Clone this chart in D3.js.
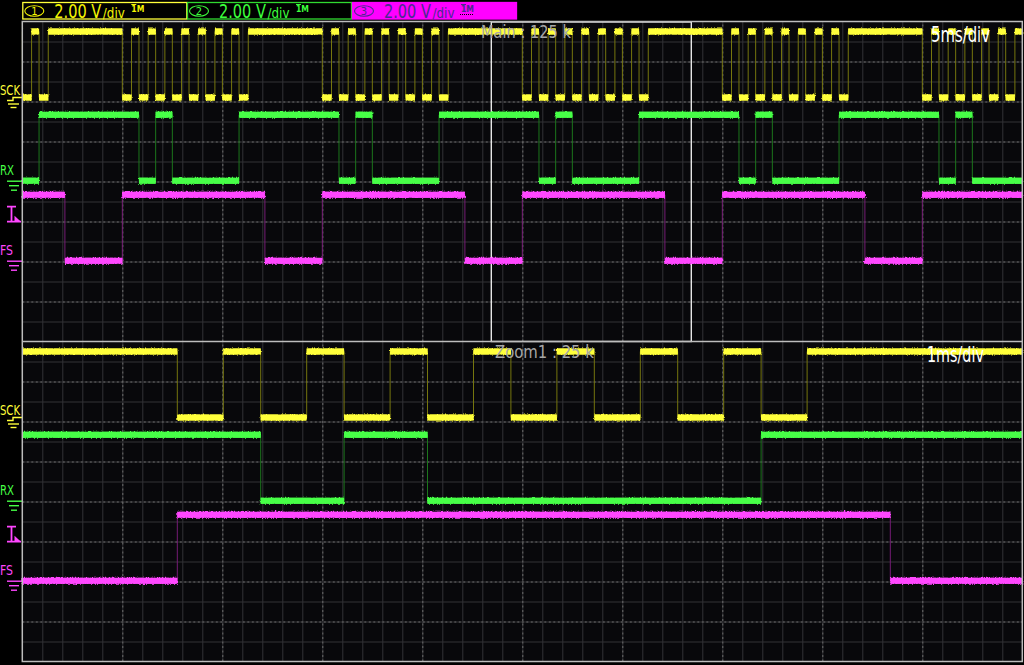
<!DOCTYPE html>
<html><head><meta charset="utf-8">
<script src="https://cdn.jsdelivr.net/npm/d3@7"></script>
<style>
html,body{margin:0;padding:0;background:#000;overflow:hidden;}
svg{display:block;}
</style></head><body>
<svg id="c" width="1024" height="665"></svg>
<script>
const channelNames = ["SCK", "RX", "FS"];
const channelColors = ["#ffff3a", "#46ff46", "#ff46ff"];
const edgeColors = ["#76760e", "#1c761c", "#761c76"];
const groundDiv = [1.9, 3.98, 5.98];             // ground marker, divisions from panel top
const voltsPerDiv = [2, 2, 2];
const frameStarts = [-5, 5, 15, 25, 35, 45];      // ms, FS rising edges
const sckEdges = [[0.000,0],[0.460,1],[0.834,0],[1.294,1],[1.668,0],[2.128,1],[2.502,0],[2.962,1],
                  [3.336,0],[3.796,1],[4.170,0],[4.630,1],[5.004,0],[5.464,1],[5.838,0],[6.298,1]];
const rxEdges = [[0.834,0],[1.668,1],[2.502,0],[5.838,1]];
const fsEdges = [[0.000,1],[7.130,0]];
const initialLevels = [1, 1, 0];
const logicHighVolts = 3.3;
const mainRange = [0, 50];          // ms
const zoomRange = [23.45, 33.45];   // ms
const headerLabels = ["2.00 V", "2.00 V", "2.00 V"];
const timebaseLabels = ["5ms/div", "1ms/div"];
const panelTitles = ["Main : 125 k", "Zoom1 : 25 k"];

// ---------------- layout ----------------
const svg = d3.select("#c");
const X0 = 22.3, X1 = 1022.3, PH = 320;
const panelTops = [21.5, 341.5];
const FONT = "'Liberation Sans Narrow','DejaVu Sans Condensed','Roboto Condensed','DejaVu Sans',sans-serif";

// condense a text horizontally to a target width with a real transform
function fit(sel, x, y, w){
  sel.attr("x",0).attr("y",0);
  const n = sel.node().getComputedTextLength() || w;
  sel.attr("transform",`translate(${x},${y}) scale(${w/n},1)`);
  return sel;
}

svg.append("rect").attr("width",1024).attr("height",665).attr("fill","#000");

const defs = svg.append("defs");
function fuzz(id, scale){
  const f = defs.append("filter").attr("id",id).attr("filterUnits","userSpaceOnUse")
    .attr("x",0).attr("y",0).attr("width",1024).attr("height",665);
  f.append("feTurbulence").attr("type","fractalNoise").attr("baseFrequency","0.9 0.7")
    .attr("numOctaves",1).attr("seed",7).attr("result","n");
  f.append("feDisplacementMap").attr("in","SourceGraphic").attr("in2","n").attr("scale",scale)
    .attr("xChannelSelector","R").attr("yChannelSelector","G").attr("result","d");
  const m = f.append("feMerge");
  m.append("feMergeNode").attr("in","d");
  m.append("feMergeNode").attr("in","SourceGraphic");
}
fuzz("fz0",3.5); fuzz("fz1",3.5); fuzz("fz2",6);
const hatch = defs.append("pattern").attr("id","hatch").attr("patternUnits","userSpaceOnUse")
  .attr("width",2).attr("height",2);
hatch.append("rect").attr("width",1).attr("height",1).attr("fill","currentColor");

// ---------------- header ----------------
const headerBoxes = [
  {x:22.3, fill:"none", stroke:channelColors[0], text:"#f4f400"},
  {x:187, fill:"none", stroke:"#30d830", text:"#3cff3c"},
  {x:352, fill:"#ff00ff", stroke:"#ff00ff", text:"#4a2a90"}
];
headerBoxes.forEach((b,i)=>{
  const g = svg.append("g").attr("transform",`translate(${b.x},0)`);
  g.append("rect").attr("x",0.5).attr("y",2.5).attr("width",164).attr("height",16.5)
    .attr("fill",b.fill).attr("stroke",b.stroke).attr("stroke-width",1.3);
  g.append("ellipse").attr("cx",12).attr("cy",11).attr("rx",9.5).attr("ry",5.3)
    .attr("fill","none").attr("stroke",b.text).attr("stroke-width",1.1);
  g.append("text").attr("x",12).attr("y",15).attr("text-anchor","middle")
    .attr("font-family",FONT).attr("font-size",11).attr("fill",b.text).text(String(i+1));
  fit(g.append("text").attr("font-family",FONT).attr("font-size",19).attr("fill",b.text).text(headerLabels[i]), 32, 17.5, 47);
  fit(g.append("text").attr("font-family",FONT).attr("font-size",13.5).attr("fill",b.text).text("/div"), 80.5, 17.5, 22);
  fit(g.append("text").attr("font-family",FONT).attr("font-size",8.5).attr("font-weight","bold").attr("fill",b.text).text("1M"), 109, 11.5, 13);
  g.append("line").attr("x1",109).attr("x2",114).attr("y1",4.5).attr("y2",4.5).attr("stroke",b.text).attr("stroke-width",1);
  g.append("rect").attr("x",108).attr("y",13).attr("width",14).attr("height",3)
    .style("color",b.text).attr("fill","url(#hatch)");
});

// ---------------- panels ----------------
svg.append("rect").attr("x",X0).attr("y",panelTops[0]).attr("width",X1-X0).attr("height",2*PH).attr("fill","#08080b");

function buildSegments(edges, init, range){
  const all = [];
  frameStarts.forEach(f => edges.forEach(([dt,l]) => all.push([f+dt,l])));
  all.sort((a,b)=>a[0]-b[0]);
  let level = init;
  all.forEach(([t,l]) => { if (t <= range[0]) level = l; });
  const segs = []; let t0 = range[0];
  all.filter(e => e[0] > range[0] && e[0] < range[1]).forEach(([t,l]) => {
    if (l !== level){ segs.push([t0,t,level]); t0 = t; level = l; }
  });
  segs.push([t0, range[1], level]);
  return segs;
}
const channelEdges = [sckEdges, rxEdges, fsEdges];

const panels = [
  {top:panelTops[0], range:mainRange, minor:1, major:5},
  {top:panelTops[1], range:zoomRange, minor:0.2, major:1}
];

panels.forEach((p,pi)=>{
  const x = d3.scaleLinear().domain(p.range).range([X0,X1]);
  const yDiv = d3.scaleLinear().domain([0,8]).range([p.top, p.top+PH]);
  const g = svg.append("g");

  // grid through axes
  const minorT = d3.range(p.range[0]+p.minor, p.range[1]-p.minor/2, p.minor);
  const majorT = d3.range(p.range[0]+p.major, p.range[1]-p.major/2, p.major);
  const gridV = g.append("g").attr("transform",`translate(0,${p.top+PH})`)
    .call(d3.axisBottom(x).tickValues(minorT).tickSize(-PH).tickFormat(""));
  gridV.select(".domain").remove();
  gridV.selectAll("line").attr("stroke","#333337").attr("stroke-width",1);
  const gridH = g.append("g").attr("transform",`translate(${X0},0)`)
    .call(d3.axisLeft(yDiv).tickValues(d3.range(0.5,8,0.5)).tickSize(-(X1-X0)).tickFormat(""));
  gridH.select(".domain").remove();
  gridH.selectAll("line").attr("stroke","#333337").attr("stroke-width",1);
  const majV = g.append("g").attr("transform",`translate(0,${p.top+PH})`)
    .call(d3.axisBottom(x).tickValues(majorT).tickSize(-PH).tickFormat(""));
  majV.select(".domain").remove();
  majV.selectAll("line").attr("stroke","#6c6c6c").attr("stroke-dasharray","2,2.5");
  const majH = g.append("g").attr("transform",`translate(${X0},0)`)
    .call(d3.axisLeft(yDiv).tickValues(d3.range(1,8,1)).tickSize(-(X1-X0)).tickFormat(""));
  majH.select(".domain").remove();
  majH.selectAll("line").attr("stroke","#6c6c6c").attr("stroke-dasharray","2,2.5");

  // zoom window box in main panel
  if (pi === 0){
    g.append("rect").attr("x",x(zoomRange[0])).attr("y",p.top+0.5)
      .attr("width",x(zoomRange[1])-x(zoomRange[0])).attr("height",PH-0.5)
      .attr("fill","none").attr("stroke","#e6e6e6").attr("stroke-width",1.4);
  }

  // traces
  channelNames.forEach((name,ci)=>{
    const vd = voltsPerDiv[ci];
    const y = d3.scaleLinear().domain([-(8-groundDiv[ci])*vd, groundDiv[ci]*vd]).range([p.top+PH, p.top]);
    const segs = buildSegments(channelEdges[ci], initialLevels[ci], p.range);
    const pts = segs.map(s=>[s[0], s[2]]).concat([[p.range[1], segs[segs.length-1][2]]]);
    const line = d3.line().x(d=>x(d[0])).y(d=>y(d[1]*logicHighVolts)).curve(d3.curveStepAfter);
    g.append("path").attr("d",line(pts)).attr("fill","none").attr("stroke",edgeColors[ci]).attr("stroke-width",1);
    g.append("g").attr("filter",`url(#fz${ci})`).selectAll("line").data(segs).join("line")
      .attr("x1",d=>x(d[0])).attr("x2",d=>x(d[1]))
      .attr("y1",d=>y(d[2]*logicHighVolts)).attr("y2",d=>y(d[2]*logicHighVolts))
      .attr("stroke",channelColors[ci]).attr("stroke-width",6);

    // left labels & ground markers
    const y0 = y(0);
    const col = channelColors[ci];
    const lab = svg.append("g");
    const lw = name==="SCK"?20:(name==="RX"?14:13);
    fit(lab.append("text").attr("font-family",FONT).attr("font-size",13.5).attr("fill",col).text(name),
        0, y0 - (ci===0?3:6), lw);
    if (ci===0){
      lab.append("path").attr("d",`M7,${y0+3}H13V${y0}H22`).attr("fill","none").attr("stroke",col).attr("stroke-width",1.4);
      lab.append("line").attr("x1",8).attr("x2",19).attr("y1",y0+6.5).attr("y2",y0+6.5).attr("stroke",col).attr("stroke-width",1.4);
      lab.append("line").attr("x1",10.5).attr("x2",16.5).attr("y1",y0+10).attr("y2",y0+10).attr("stroke",col).attr("stroke-width",1.4);
    } else {
      lab.append("line").attr("x1",7).attr("x2",22).attr("y1",y0+0.5).attr("y2",y0+0.5).attr("stroke",col).attr("stroke-width",1.4);
      lab.append("line").attr("x1",9).attr("x2",19).attr("y1",y0+5).attr("y2",y0+5).attr("stroke",col).attr("stroke-width",1.4);
      lab.append("line").attr("x1",11).attr("x2",17).attr("y1",y0+9.5).attr("y2",y0+9.5).attr("stroke",col).attr("stroke-width",1.4);
    }
    if (ci===2){
      const ty = y0 - 54;
      lab.append("path").attr("d",`M7,${ty}H16M11.5,${ty}V${ty+15}M7,${ty+15}H21`)
        .attr("fill","none").attr("stroke",col).attr("stroke-width",1.8);
      lab.append("path").attr("d",`M14.5,${ty+9}L14.5,${ty+15}L21,${ty+15}Z`).attr("fill",col);
    }
  });

  // texts on top
  fit(g.append("text").attr("font-family",FONT).attr("font-size",18.5).attr("fill","#a6a6a6").text(panelTitles[pi]),
      pi===0?481:495, p.top + 16.8, pi===0?90:99);
  fit(g.append("text").attr("font-family",FONT).attr("font-size",21).attr("fill","#ffffff").text(timebaseLabels[pi]),
      pi===0?931:927, p.top + 20, pi===0?59:57);
});

// borders
svg.append("rect").attr("x",X0).attr("y",panelTops[0]).attr("width",X1-X0).attr("height",2*PH)
  .attr("fill","none").attr("stroke","#bdbdbd").attr("stroke-width",1.5);
svg.append("line").attr("x1",X0).attr("x2",X1).attr("y1",panelTops[1]).attr("y2",panelTops[1])
  .attr("stroke","#bdbdbd").attr("stroke-width",1.5);
</script>
</body></html>
